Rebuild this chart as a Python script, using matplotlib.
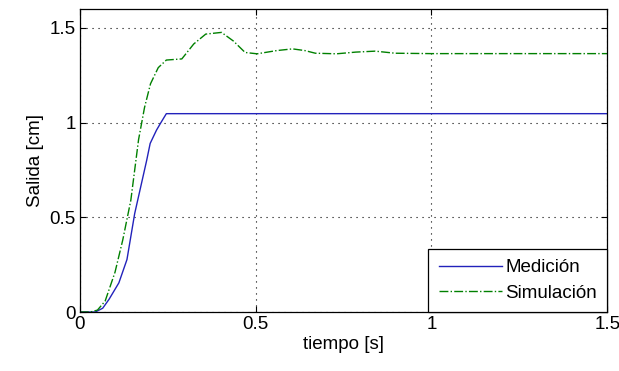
import matplotlib
matplotlib.use("Agg")
import matplotlib.pyplot as plt
import numpy as np

plt.rcParams["font.family"] = ["Liberation Sans", "DejaVu Sans"]

# Medición
t_med = [0.0, 0.044, 0.065, 0.083, 0.111, 0.134, 0.156, 0.173, 0.19, 0.20, 0.218, 0.229, 0.246, 1.5]
y_med = [0.0, 0.0, 0.02, 0.067, 0.154, 0.277, 0.52, 0.66, 0.80, 0.89, 0.96, 0.995, 1.047, 1.047]

# Simulación
t_sim = [0.0, 0.03, 0.05, 0.072, 0.10, 0.122, 0.145, 0.167, 0.184, 0.201, 0.223, 0.246, 0.29,
         0.324, 0.358, 0.403, 0.437, 0.47, 0.504, 0.56, 0.605, 0.64, 0.67, 0.73, 0.785, 0.84,
         0.897, 1.0, 1.5]
y_sim = [0.0, 0.0, 0.01, 0.058, 0.21, 0.38, 0.59, 0.91, 1.08, 1.205, 1.29, 1.33, 1.336,
         1.415, 1.467, 1.476, 1.43, 1.37, 1.363, 1.38, 1.389, 1.38, 1.366, 1.363, 1.372, 1.377,
         1.366, 1.364, 1.364]

fs = 13.5

fig = plt.figure(figsize=(6.19, 3.71), dpi=100)
ax = fig.add_axes([0.129, 0.159, 0.852, 0.817])

ax.plot(t_med, y_med, color="#2222bb", lw=1.0, label="Medición")
ax.plot(t_sim, y_sim, color="#008000", lw=1.0, ls="-.", label="Simulación")

ax.set_xlim(0, 1.5)
ax.set_ylim(0, 1.6)
ax.set_xticks([0, 0.5, 1, 1.5])
ax.set_xticklabels(["0", "0.5", "1", "1.5"])
ax.set_yticks([0, 0.5, 1, 1.5])
ax.set_yticklabels(["0", "0.5", "1", "1.5"])
ax.tick_params(direction="in", top=True, right=True, labelsize=fs, length=4, pad=3)
ax.grid(True, ls=(0, (1, 4.4)), color="black", lw=0.8)
for s in ax.spines.values():
    s.set_linewidth(0.9)

ax.set_xlabel("tiempo [s]", fontsize=fs, labelpad=2)
ax.set_ylabel("Salida [cm]", fontsize=fs, labelpad=4)

leg = ax.legend(loc="lower right", borderaxespad=0, fancybox=False, edgecolor="black",
                fontsize=fs, handlelength=3.4, handletextpad=0.15, borderpad=0.55,
                labelspacing=0.45)
leg.get_frame().set_linewidth(0.9)
leg.get_frame().set_alpha(1)

fig.savefig("out.png", dpi=100)
